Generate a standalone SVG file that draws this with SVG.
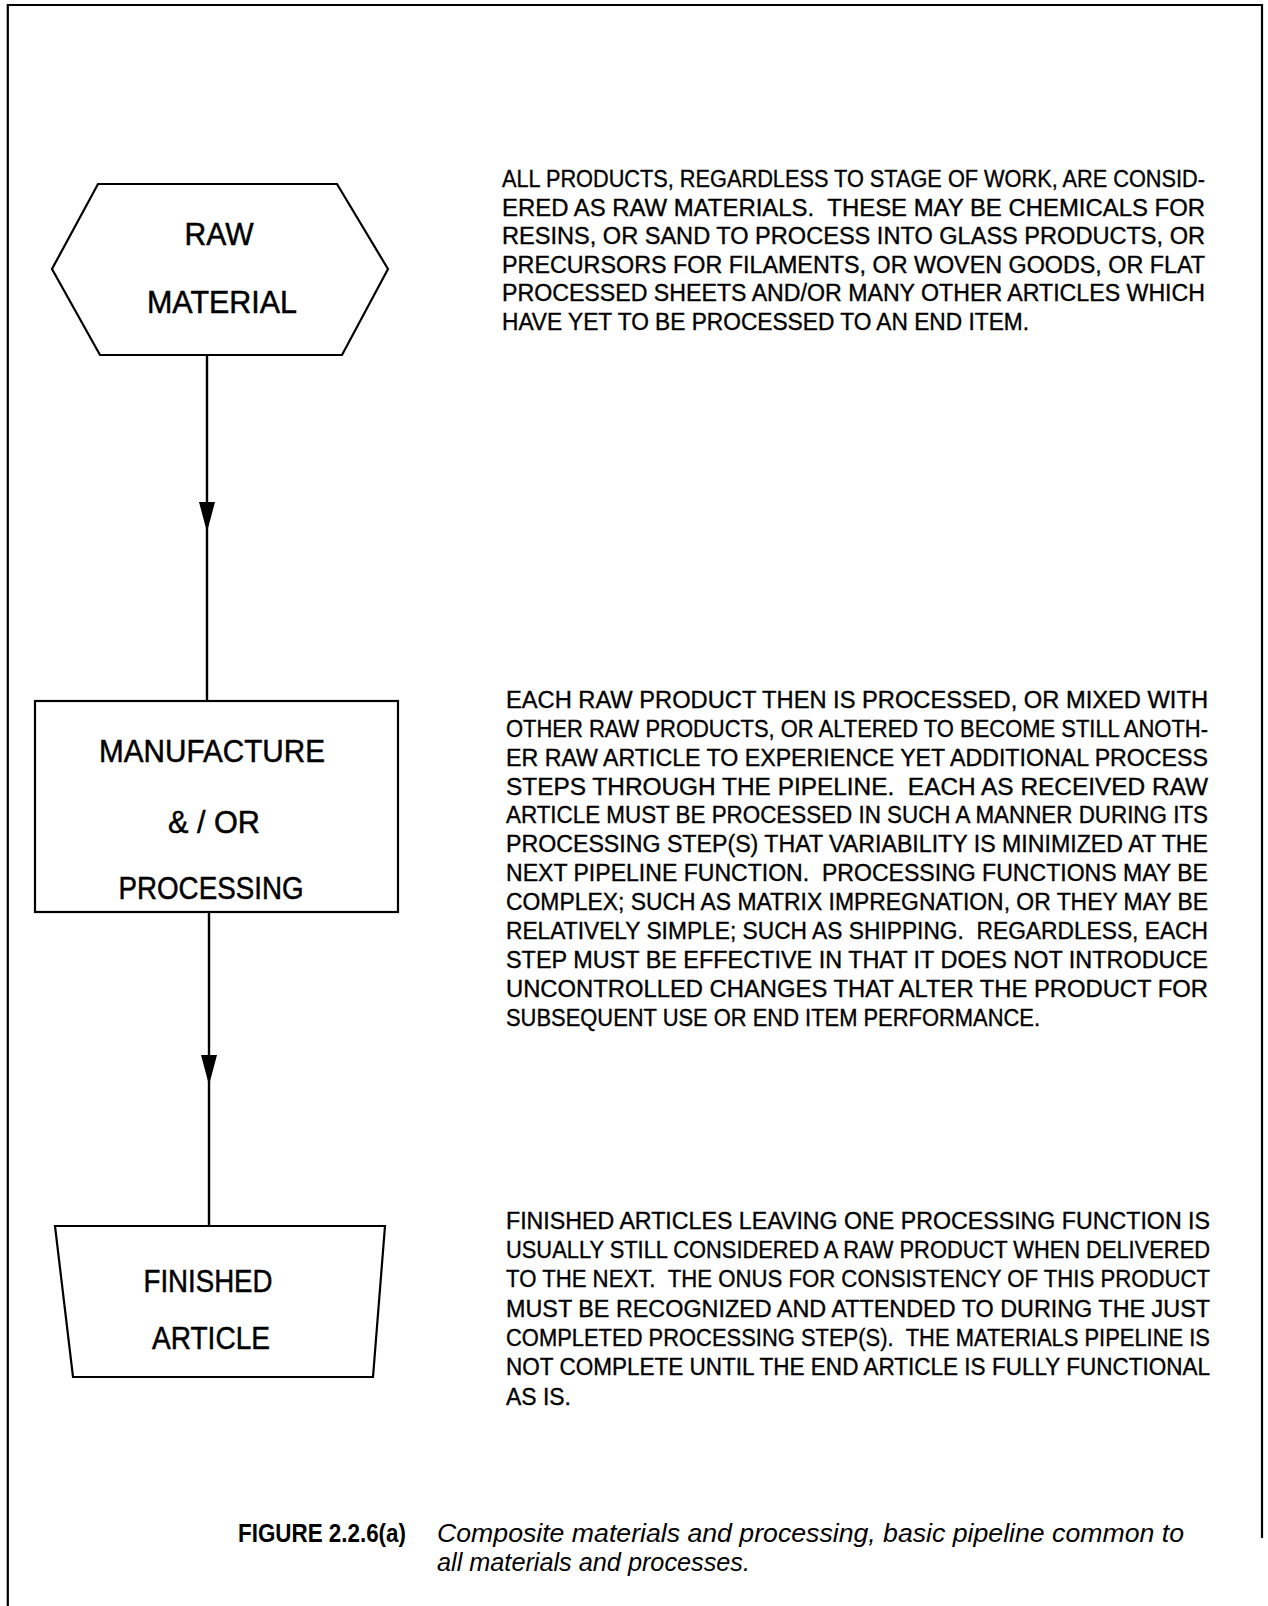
<svg xmlns="http://www.w3.org/2000/svg" width="1268" height="1606" viewBox="0 0 1268 1606">
<style>
.shape{fill:none;stroke:#000;stroke-width:2.2;stroke-linejoin:miter}
.lbl{font-family:"Liberation Sans",Arial,sans-serif;font-size:32px;fill:#000;stroke:#000;stroke-width:0.5;text-anchor:middle}
.body text{font-family:"Liberation Sans",Arial,sans-serif;font-size:23px;fill:#000;stroke:#000;stroke-width:0.35}
.cap text{font-family:"Liberation Sans",Arial,sans-serif;font-size:26px;fill:#000}
.conn{fill:none;stroke:#000;stroke-width:2.4}
</style>
<defs>
<marker id="arr" viewBox="0 -8 30 16" refX="30" refY="0" markerWidth="30" markerHeight="16" markerUnits="userSpaceOnUse" orient="auto">
<path d="M0,-8 L30,0 L0,8 Z" fill="#000"/>
</marker>
</defs>
<rect width="1268" height="1606" fill="#fff"/>
<g id="frame" fill="none" stroke="#000" stroke-width="2.2">
<polyline points="7.8,1606 7.8,5 1262,5 1262,1538"/>
</g>
<g id="connectors">
<polyline class="conn" points="207,355 207,532 207,701" marker-mid="url(#arr)"/>
<polyline class="conn" points="209,912 209,1085 209,1226" marker-mid="url(#arr)"/>
</g>
<g id="raw-material">
<polygon class="shape" points="98,184 337,184 388,269 342,355 100,355 52,269"/>
<text class="lbl" x="219" y="245" textLength="69" lengthAdjust="spacingAndGlyphs">RAW</text>
<text class="lbl" x="222" y="313" textLength="150" lengthAdjust="spacingAndGlyphs">MATERIAL</text>
</g>
<g id="manufacture">
<rect class="shape" x="35" y="701" width="363" height="211"/>
<text class="lbl" x="212" y="762" textLength="226" lengthAdjust="spacingAndGlyphs">MANUFACTURE</text>
<text class="lbl" x="214" y="833" textLength="92" lengthAdjust="spacingAndGlyphs">&amp; / OR</text>
<text class="lbl" x="211" y="899" textLength="185" lengthAdjust="spacingAndGlyphs">PROCESSING</text>
</g>
<g id="finished-article">
<polygon class="shape" points="55,1226 385,1226 373,1377 73,1377"/>
<text class="lbl" x="208" y="1292" textLength="129" lengthAdjust="spacingAndGlyphs">FINISHED</text>
<text class="lbl" x="211" y="1349" textLength="118" lengthAdjust="spacingAndGlyphs">ARTICLE</text>
</g>
<g id="note-raw" class="body">
<text x="502" y="187" textLength="703" lengthAdjust="spacingAndGlyphs">ALL PRODUCTS, REGARDLESS TO STAGE OF WORK, ARE CONSID-</text>
<text x="502" y="215.6" textLength="703" lengthAdjust="spacingAndGlyphs">ERED AS RAW MATERIALS. &#160;THESE MAY BE CHEMICALS FOR</text>
<text x="502" y="244.2" textLength="703" lengthAdjust="spacingAndGlyphs">RESINS, OR SAND TO PROCESS INTO GLASS PRODUCTS, OR</text>
<text x="502" y="272.8" textLength="703" lengthAdjust="spacingAndGlyphs">PRECURSORS FOR FILAMENTS, OR WOVEN GOODS, OR FLAT</text>
<text x="502" y="301.4" textLength="703" lengthAdjust="spacingAndGlyphs">PROCESSED SHEETS AND/OR MANY OTHER ARTICLES WHICH</text>
<text x="502" y="330" textLength="527" lengthAdjust="spacingAndGlyphs">HAVE YET TO BE PROCESSED TO AN END ITEM.</text>
</g>
<g id="note-process" class="body">
<text x="506" y="708" textLength="702" lengthAdjust="spacingAndGlyphs">EACH RAW PRODUCT THEN IS PROCESSED, OR MIXED WITH</text>
<text x="506" y="736.9" textLength="702" lengthAdjust="spacingAndGlyphs">OTHER RAW PRODUCTS, OR ALTERED TO BECOME STILL ANOTH-</text>
<text x="506" y="765.7" textLength="702" lengthAdjust="spacingAndGlyphs">ER RAW ARTICLE TO EXPERIENCE YET ADDITIONAL PROCESS</text>
<text x="506" y="794.6" textLength="702" lengthAdjust="spacingAndGlyphs">STEPS THROUGH THE PIPELINE. &#160;EACH AS RECEIVED RAW</text>
<text x="506" y="823.4" textLength="702" lengthAdjust="spacingAndGlyphs">ARTICLE MUST BE PROCESSED IN SUCH A MANNER DURING ITS</text>
<text x="506" y="852.3" textLength="702" lengthAdjust="spacingAndGlyphs">PROCESSING STEP(S) THAT VARIABILITY IS MINIMIZED AT THE</text>
<text x="506" y="881.2" textLength="702" lengthAdjust="spacingAndGlyphs">NEXT PIPELINE FUNCTION. &#160;PROCESSING FUNCTIONS MAY BE</text>
<text x="506" y="910" textLength="702" lengthAdjust="spacingAndGlyphs">COMPLEX; SUCH AS MATRIX IMPREGNATION, OR THEY MAY BE</text>
<text x="506" y="938.9" textLength="702" lengthAdjust="spacingAndGlyphs">RELATIVELY SIMPLE; SUCH AS SHIPPING. &#160;REGARDLESS, EACH</text>
<text x="506" y="967.7" textLength="702" lengthAdjust="spacingAndGlyphs">STEP MUST BE EFFECTIVE IN THAT IT DOES NOT INTRODUCE</text>
<text x="506" y="996.6" textLength="702" lengthAdjust="spacingAndGlyphs">UNCONTROLLED CHANGES THAT ALTER THE PRODUCT FOR</text>
<text x="506" y="1025.5" textLength="534" lengthAdjust="spacingAndGlyphs">SUBSEQUENT USE OR END ITEM PERFORMANCE.</text>
</g>
<g id="note-finished" class="body">
<text x="506" y="1228.5" textLength="704" lengthAdjust="spacingAndGlyphs">FINISHED ARTICLES LEAVING ONE PROCESSING FUNCTION IS</text>
<text x="506" y="1257.8" textLength="704" lengthAdjust="spacingAndGlyphs">USUALLY STILL CONSIDERED A RAW PRODUCT WHEN DELIVERED</text>
<text x="506" y="1287.2" textLength="704" lengthAdjust="spacingAndGlyphs">TO THE NEXT. &#160;THE ONUS FOR CONSISTENCY OF THIS PRODUCT</text>
<text x="506" y="1316.5" textLength="704" lengthAdjust="spacingAndGlyphs">MUST BE RECOGNIZED AND ATTENDED TO DURING THE JUST</text>
<text x="506" y="1345.8" textLength="704" lengthAdjust="spacingAndGlyphs">COMPLETED PROCESSING STEP(S). &#160;THE MATERIALS PIPELINE IS</text>
<text x="506" y="1375.2" textLength="704" lengthAdjust="spacingAndGlyphs">NOT COMPLETE UNTIL THE END ARTICLE IS FULLY FUNCTIONAL</text>
<text x="506" y="1404.5" textLength="65" lengthAdjust="spacingAndGlyphs">AS IS.</text>
</g>
<g id="caption" class="cap">
<text x="238" y="1542" font-weight="bold" textLength="168" lengthAdjust="spacingAndGlyphs">FIGURE 2.2.6(a)</text>
<text x="437" y="1542" font-style="italic" textLength="747" lengthAdjust="spacingAndGlyphs">Composite materials and processing, basic pipeline common to</text>
<text x="437" y="1571" font-style="italic" textLength="313" lengthAdjust="spacingAndGlyphs">all materials and processes.</text>
</g>
</svg>
